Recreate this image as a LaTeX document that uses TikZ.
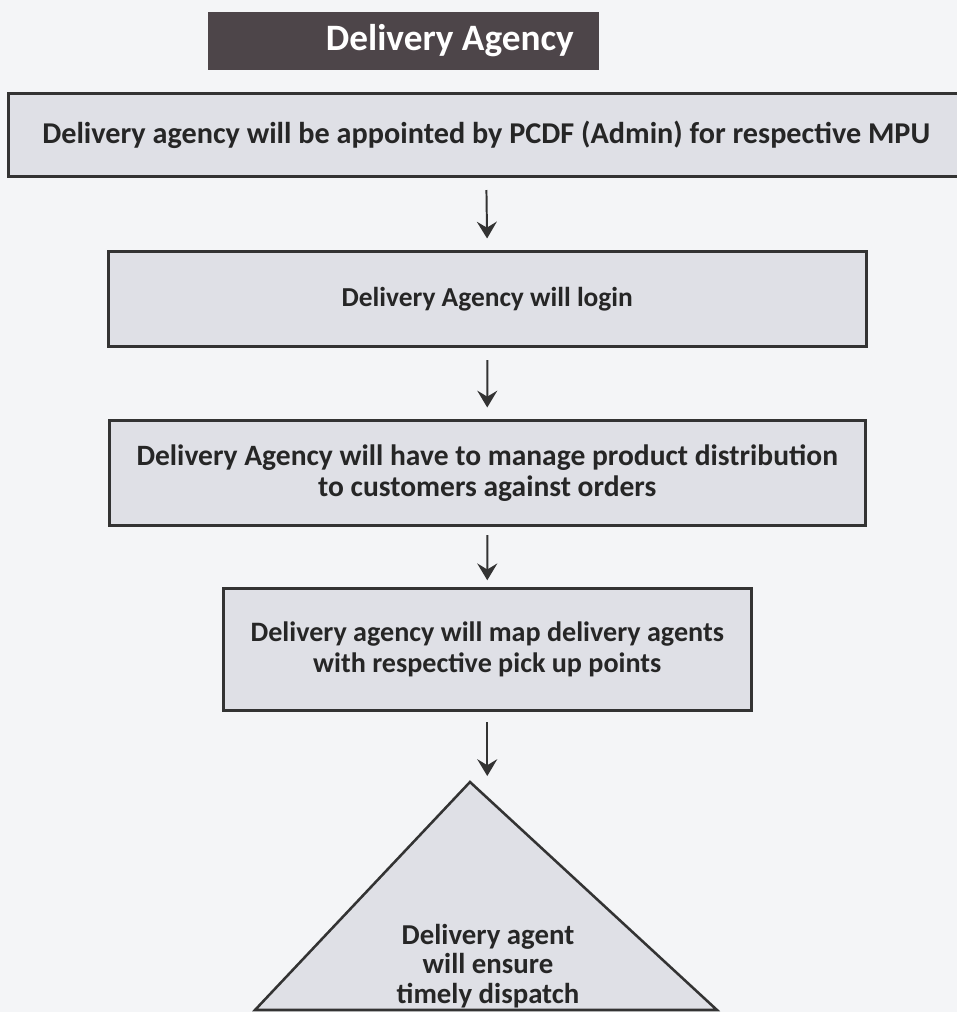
\documentclass[tikz,border=0pt]{standalone}
\usepackage{fontspec}
\setmainfont{Carlito}
\usepackage{tikz}
\usetikzlibrary{arrows.meta}
\usetikzlibrary{positioning}

\definecolor{paper}{HTML}{F4F5F7}
\definecolor{boxfill}{HTML}{DFE0E6}
\definecolor{boxline}{HTML}{333333}
\definecolor{titlefill}{HTML}{4D4549}
\definecolor{inktext}{HTML}{262626}

\tikzset{
  stepbox/.style={rectangle, draw=boxline, line width=1.8pt, fill=boxfill, anchor=south west,
    text=inktext, align=center, font=\fontsize{#1}{22}\selectfont\bfseries},
  stepbox/.default=20.5,
  titlebox/.style={rectangle, fill=titlefill, anchor=south west, text=white,
    font=\fontsize{26.5}{30}\selectfont\bfseries},
  flow/.style={draw=boxline, line width=1.4pt, -{Stealth[length=0.42cm, width=0.5cm, inset=0.15cm]},
    shorten <=0.3cm, shorten >=0.3cm},
}

\begin{document}
\begin{tikzpicture}

\useasboundingbox[fill=paper] (0,0) rectangle (23.925,-25.3);
%\draw[step=1cm, gray, very thin, dotted] (0,0) grid (24,-25);

\node at (5.2,-1.75) [titlebox, minimum width=9.78cm, minimum height=1.45cm] (title) {\hspace*{2.3cm}Delivery Agency};

\node at (0.175,-4.45) [stepbox=21.5, minimum width=23.9cm, minimum height=2.075cm] (appoint) {Delivery agency will be appointed by PCDF (Admin) for respective MPU};
\node at (2.675,-8.7) [stepbox=19.5, minimum width=18.95cm, minimum height=2.375cm] (login) {Delivery Agency will login};
\node at (2.7,-13.175) [stepbox=21, minimum width=18.9cm, minimum height=2.625cm] (manage) {Delivery Agency will have to manage product distribution\\to customers against orders};
\node at (5.55,-17.8) [stepbox=20, minimum width=13.2cm, minimum height=3.05cm] (mapagents) {Delivery agency will map delivery agents\\with respective pick up points};

\coordinate (apex) at (11.75,-19.55);
\coordinate (baseleft) at (6.375,-25.25);
\coordinate (baseright) at (17.925,-25.25);
\draw[draw=boxline, line width=1.8pt, fill=boxfill, line join=miter] (apex) -- (baseright) -- (baseleft) -- cycle;
\node at (12.2,-24.15) [align=center, text=inktext, font=\fontsize{20.5}{21}\selectfont\bfseries] (dispatch) {Delivery agent\\will ensure\\timely dispatch};

\draw[flow] (appoint.south) -- (login.north);
\draw[flow] (login.south) -- (manage.north);
\draw[flow, shorten <=0.2cm, shorten >=0.18cm] (manage.south) -- (mapagents.north);
\draw[flow, shorten <=0.25cm, shorten >=0.15cm] (mapagents.south) -- (mapagents.south |- apex);

\end{tikzpicture}
\end{document}
